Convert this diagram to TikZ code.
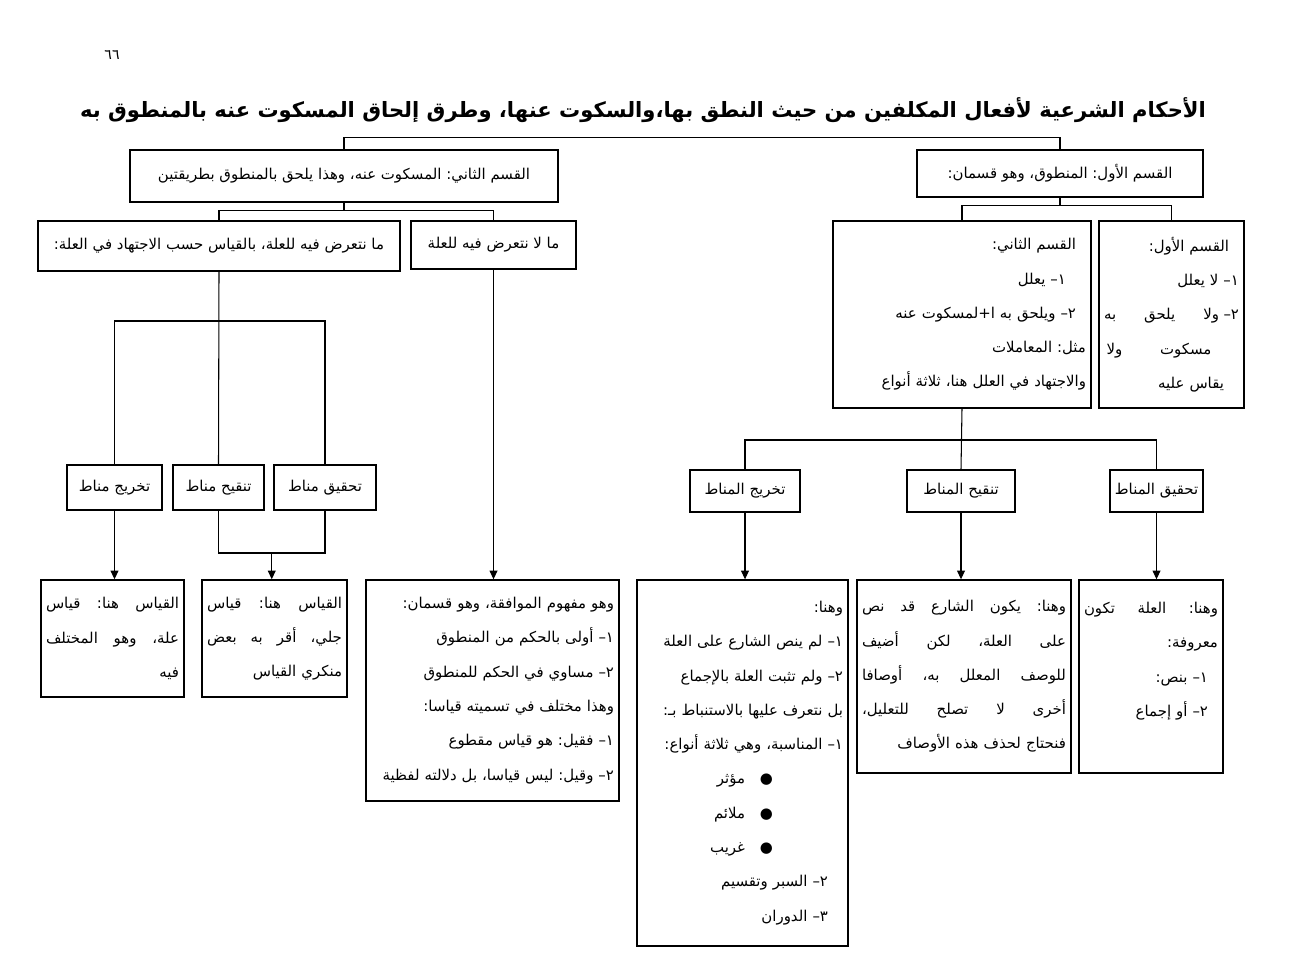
\documentclass[tikz,border=0pt]{standalone}
\usepackage{fontspec}
\newfontfamily\arabicfont[Script=Arabic]{DejaVu Sans}
\TeXXeTstate=1
\frenchspacing
\usetikzlibrary{arrows.meta}
\newcommand{\ar}[1]{\beginR #1\endR}
\newcommand{\jl}[1]{\makebox[\hsize][s]{\spaceskip=0.3em plus 1fil\beginR #1\endR}}
\newcommand{\jw}[2]{\makebox[#1][s]{\spaceskip=0.3em plus 1fil\beginR #2\endR}}
\newcommand{\ind}[1]{\rule{#1}{0pt}}

\begin{document}
\begin{tikzpicture}[x=0.02cm, y=-0.02cm,
  every node/.style={font=\arabicfont\fontsize{8.5}{19.5}\selectfont},
  sbox/.style={draw, line width=0.8pt, inner sep=0pt, align=center},
  box/.style={draw, line width=0.8pt, inner xsep=0.1cm, inner ysep=0pt, align=right},
  link/.style={line width=0.6pt},
  arr/.style={link, -{Triangle[length=5pt,width=4.5pt]}}]
  \useasboundingbox (0,0) rectangle (1308,966);

  % heading
  \node (page) at (112,55) {\fontsize{8}{10}\selectfont\ar{٦٦}};
  \node (title) at (643,110) {\fontsize{12}{14}\selectfont\bfseries\ar{الأحكام الشرعية لأفعال المكلفين من حيث النطق بها،والسكوت عنها، وطرق إلحاق المسكوت عنه بالمنطوق به}};

  % first level
  \node[sbox, minimum width=8.56cm, minimum height=1.04cm] (maskut) at (344,176) {\ar{القسم الثاني: المسكوت عنه، وهذا يلحق بالمنطوق بطريقتين}};
  \node[sbox, minimum width=5.72cm, minimum height=0.94cm] (mantuq) at (1060,173.5) {\ar{القسم الأول: المنطوق، وهو قسمان:}};

  % second level
  \node[sbox, minimum width=7.24cm, minimum height=1.0cm] (taarud) at (219,246) {\ar{ما نتعرض فيه للعلة، بالقياس حسب الاجتهاد في العلة:}};
  \node[sbox, minimum width=3.30cm, minimum height=0.96cm] (lataarud) at (493.5,245) {\ar{ما لا نتعرض فيه للعلة}};
  \node[box, text width=4.96cm, minimum height=3.74cm] (qism2) at (962,314.5) {%
    \ar{القسم الثاني:}\ind{0.2cm}\\
    \ar{١– يعلل}\ind{0.4cm}\\
    \ar{٢– ويلحق به ا+لمسكوت عنه}\ind{0.2cm}\\
    \ar{مثل: المعاملات}\\
    \ar{والاجتهاد في العلل هنا، ثلاثة أنواع}};
  \node[box, text width=2.70cm, minimum height=3.74cm] (qism1) at (1171.5,314.5) {%
    \ar{القسم الأول:}\ind{0.2cm}\\
    \ar{١– لا يعلل}\\
    \jl{٢–\hspace{0.3em}ولا يلحق به}\\
    \jw{2.1cm}{مسكوت ولا}\ind{0.55cm}\\
    \ar{يقاس عليه}\ind{0.3cm}};

  % third level, left
  \node[sbox, minimum width=1.90cm, minimum height=0.9cm] (takhrij) at (114.5,487.5) {\ar{تخريج مناط}};
  \node[sbox, minimum width=1.82cm, minimum height=0.9cm] (tanqih) at (218.5,487.5) {\ar{تنقيح مناط}};
  \node[sbox, minimum width=2.04cm, minimum height=0.9cm] (tahqiq) at (325,487.5) {\ar{تحقيق مناط}};

  % third level, right
  \node[sbox, minimum width=2.20cm, minimum height=0.84cm] (takhrijM) at (745,491) {\ar{تخريج المناط}};
  \node[sbox, minimum width=2.16cm, minimum height=0.84cm] (tanqihM) at (961,491) {\ar{تنقيح المناط}};
  \node[sbox, minimum width=1.86cm, minimum height=0.84cm] (tahqiqM) at (1156.5,491) {\ar{تحقيق المناط}};

  % bottom boxes
  \node[box, text width=2.66cm, minimum height=2.34cm] (qiyasilla) at (112.5,638.5) {%
    \jl{القياس هنا: قياس}\\
    \jl{علة، وهو المختلف}\\
    \ar{فيه}};
  \node[box, text width=2.70cm, minimum height=2.34cm] (qiyasjali) at (274.5,638.5) {%
    \jl{القياس هنا: قياس}\\
    \jl{جلي، أقر به بعض}\\
    \ar{منكري القياس}};
  \node[box, text width=4.86cm, minimum height=4.42cm] (mafhum) at (492.5,690.5) {%
    \ar{وهو مفهوم الموافقة، وهو قسمان:}\\
    \ar{١– أولى بالحكم من المنطوق}\\
    \ar{٢– مساوي في الحكم للمنطوق}\\
    \ar{وهذا مختلف في تسميته قياسا:}\\
    \ar{١– فقيل: هو قياس مقطوع}\\
    \ar{٢– وقيل: ليس قياسا، بل دلالته لفظية}};
  \node[box, text width=4.02cm, minimum height=7.32cm] (istinbat) at (742.5,763) {%
    \ar{وهنا:}\\
    \ar{١– لم ينص الشارع على العلة}\\
    \ar{٢– ولم تثبت العلة بالإجماع}\\
    \ar{بل نتعرف عليها بالاستنباط بـ:}\\
    \ar{١– المناسبة، وهي ثلاثة أنواع:}\\
    \ar{●\quad مؤثر}\ind{1.4cm}\\
    \ar{●\quad ملائم}\ind{1.4cm}\\
    \ar{●\quad غريب}\ind{1.4cm}\\
    \ar{٢– السبر وتقسيم}\ind{0.3cm}\\
    \ar{٣– الدوران}\ind{0.3cm}};
  \node[box, text width=4.08cm, minimum height=3.86cm] (nass) at (964,676.5) {%
    \jl{وهنا: يكون الشارع قد نص}\\
    \jl{على العلة، لكن أضيف}\\
    \jl{للوصف المعلل به، أوصافا}\\
    \jl{أخرى لا تصلح للتعليل،}\\
    \ar{فنحتاج لحذف هذه الأوصاف}};
  \node[box, text width=2.68cm, minimum height=3.86cm] (maarufa) at (1151,676.5) {%
    \jl{وهنا: العلة تكون}\\
    \ar{معروفة:}\\
    \ar{١– بنص:}\ind{0.2cm}\\
    \ar{٢– أو إجماع}\ind{0.2cm}\\
    ~};

  % connectors
  \draw[link] (maskut.north) -- ++(0,-12) -| (mantuq.north);
  \draw[link] (maskut.south) -- ++(0,8) coordinate (m1);
  \draw[link] (taarud.north) |- (m1) -| (lataarud.north);
  \draw[link] (mantuq.south) -- ++(0,8) coordinate (m2);
  \draw[link] (qism2.north) |- (m2) -| (qism1.north);

  \draw[link] (taarud.south) -- (tanqih.north);
  \coordinate (c1) at (219,321);
  \draw[link] (takhrij.north) |- (c1) -| (tahqiq.north);
  \coordinate (c2) at (271.75,553);
  \draw[link] (tanqih.south) |- (c2) -| (tahqiq.south);
  \draw[arr] (c2) -- (c2 |- qiyasjali.north);
  \draw[arr] (takhrij.south) -- (takhrij.south |- qiyasilla.north);
  \draw[arr] (lataarud.south) -- (lataarud.south |- mafhum.north);

  \draw[link] (qism2.south) -- (tanqihM.north);
  \coordinate (e1) at (962,440);
  \draw[link] (takhrijM.north) |- (e1) -| (tahqiqM.north);
  \draw[arr] (takhrijM.south) -- (takhrijM.south |- istinbat.north);
  \draw[arr] (tanqihM.south) -- (tanqihM.south |- nass.north);
  \draw[arr] (tahqiqM.south) -- (tahqiqM.south |- maarufa.north);
\end{tikzpicture}
\end{document}
